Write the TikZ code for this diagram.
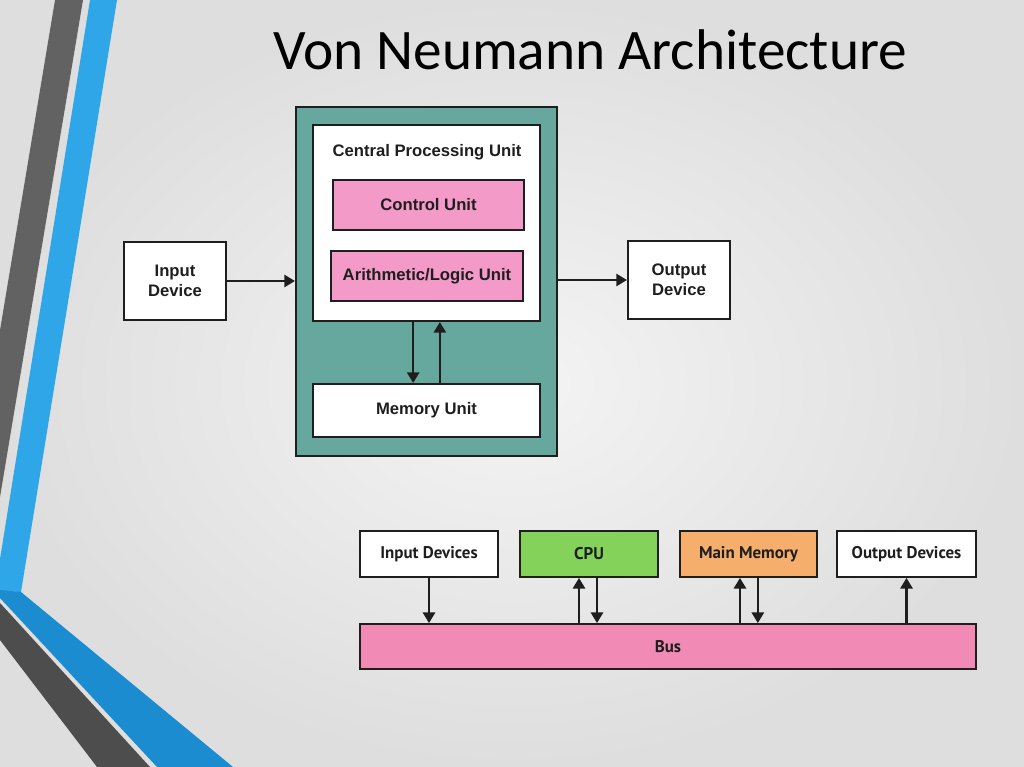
\documentclass[tikz,border=0pt]{standalone}
\usepackage{fontspec}
\setmainfont{Liberation Sans}
\newfontfamily\titlefont{Carlito}
\newfontfamily\busfont{PT Sans}
\usetikzlibrary{arrows.meta}
\definecolor{bgin}{HTML}{F4F4F4}
\definecolor{bgout}{HTML}{DEDEDE}
\definecolor{stripegray}{HTML}{626262}
\definecolor{darkgray2}{HTML}{4D4D4D}
\definecolor{stripeblue}{HTML}{2EA6E8}
\definecolor{deepblue}{HTML}{1A8CCF}
\definecolor{teal2}{HTML}{66A89E}
\definecolor{pinkbox}{HTML}{F49AC8}
\definecolor{greenbox}{HTML}{84D25A}
\definecolor{orangebox}{HTML}{F5AE6B}
\definecolor{buspink}{HTML}{F28AB6}
\definecolor{ink}{HTML}{1E1E1E}
\tikzset{
  box/.style={draw=ink, line width=1.5pt, inner sep=0pt, align=center, text=ink,
    font=\fontsize{12.5}{15}\selectfont\bfseries},
  bbox/.style={draw=ink, line width=1.3pt, inner sep=0pt, align=center, text=ink,
    font=\busfont\fontsize{12.7}{15}\selectfont\bfseries},
  arr/.style={draw=ink, line width=1.9pt, -{Triangle[length=8pt,width=9pt]}},
}
\begin{document}
\begin{tikzpicture}[x=0.75pt,y=-0.75pt]
\useasboundingbox (0,0) rectangle (1024,767);
\shade[inner color=bgin, outer color=bgout] (0,0) rectangle (1024,767);
% decorative stripes
\fill[stripegray] (55,0) -- (83,0) -- (0,497) -- (0,330) -- cycle;
\fill[stripeblue] (90,0) -- (117,0) -- (21,592) -- (0,591) -- (0,559) -- cycle;
\fill[deepblue] (0,590) -- (21,592) -- (233,767) -- (157,767) -- (0,598) -- cycle;
\fill[darkgray2] (0,603) -- (150,767) -- (97,767) -- (0,640) -- cycle;
% title
\node[font=\titlefont\fontsize{43}{48}\selectfont, text=black] (title) at (590,50) {Von Neumann Architecture};
% top diagram
\node[box, fill=teal2, minimum width=261*0.75pt, minimum height=349*0.75pt] (outer) at (426.5,281.5) {};
\node[box, fill=white, minimum width=227*0.75pt, minimum height=196*0.75pt] (cpu) at (426.5,223) {};
\node[font=\fontsize{12.5}{15}\selectfont\bfseries, text=ink] (cpulabel) at (427,152) {Central Processing Unit};
\node[box, fill=pinkbox, minimum width=191*0.75pt, minimum height=50*0.75pt] (cu) at (428.5,205) {Control Unit};
\node[box, fill=pinkbox, minimum width=192*0.75pt, minimum height=50*0.75pt] (alu) at (427,276) {Arithmetic/Logic Unit};
\node[box, fill=white, minimum width=227*0.75pt, minimum height=53*0.75pt] (mem) at (426.5,410.5) {Memory Unit};
\node[box, fill=white, minimum width=102*0.75pt, minimum height=78*0.75pt] (inp) at (175,281) {Input\\Device};
\node[box, fill=white, minimum width=102*0.75pt, minimum height=78*0.75pt] (outp) at (679,280) {Output\\Device};
\draw[arr] (inp.east) -- (outer.west |- inp.east);
\draw[arr] (outer.east |- outp.west) -- (outp.west);
\draw[arr] ([xshift=-10pt]cpu.south) -- ([xshift=-10pt]mem.north);
\draw[arr] ([xshift=10pt]mem.north) -- ([xshift=10pt]cpu.south);
% bottom diagram
\node[bbox, fill=white, minimum width=138*0.75pt, minimum height=46*0.75pt] (bin) at (429,554) {Input Devices};
\node[bbox, fill=greenbox, minimum width=138*0.75pt, minimum height=46*0.75pt] (bcpu) at (589,554) {CPU};
\node[bbox, fill=orangebox, minimum width=137*0.75pt, minimum height=46*0.75pt] (bmem) at (748.5,554) {Main Memory};
\node[bbox, fill=white, minimum width=139*0.75pt, minimum height=46*0.75pt] (bout) at (906.5,554) {Output Devices};
\node[bbox, fill=buspink, minimum width=616*0.75pt, minimum height=45*0.75pt] (bus) at (668,646.5) {Bus};
\draw[arr] (bin.south) -- (bin.south |- bus.north);
\draw[arr] ([xshift=-7.5pt]bcpu.south |- bus.north) -- ([xshift=-7.5pt]bcpu.south);
\draw[arr] ([xshift=6pt]bcpu.south) -- ([xshift=6pt]bcpu.south |- bus.north);
\draw[arr] ([xshift=-6.4pt]bmem.south |- bus.north) -- ([xshift=-6.4pt]bmem.south);
\draw[arr] ([xshift=7pt]bmem.south) -- ([xshift=7pt]bmem.south |- bus.north);
\draw[arr] (bout.south |- bus.north) -- (bout.south);
\end{tikzpicture}
\end{document}
